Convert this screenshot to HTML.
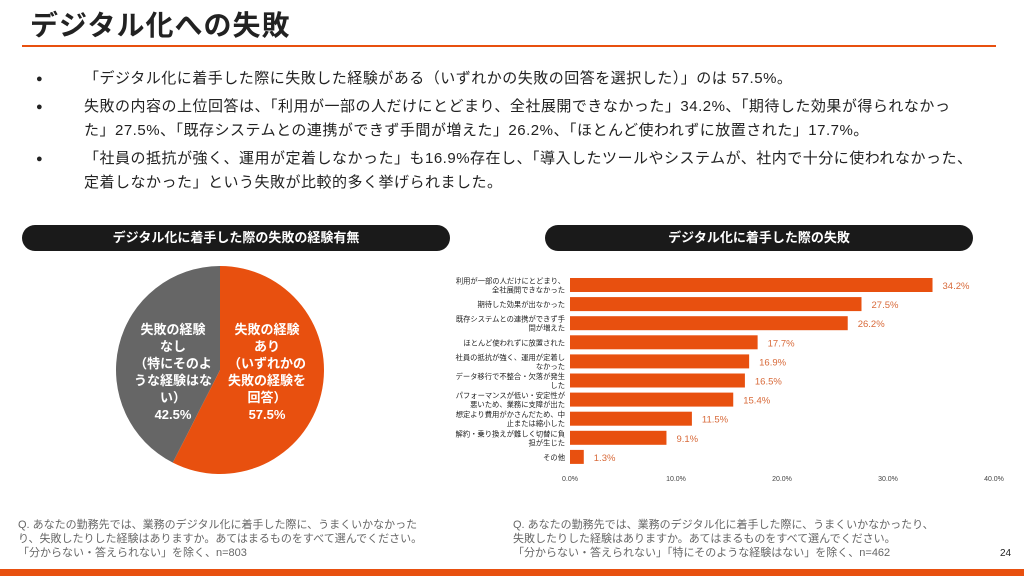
<!DOCTYPE html>
<html><head><meta charset="utf-8">
<style>
body{margin:0;width:1024px;height:576px;overflow:hidden;background:#fff;font-family:"Liberation Sans","Noto Sans CJK JP",sans-serif;color:#222;position:relative}
.abs{position:absolute}
.title{left:30px;top:4px;font-size:28px;font-weight:bold;color:#222;letter-spacing:1px}
.rule{left:22px;top:45px;width:974px;height:2px;background:#e8500f}
.bul{left:36px;font-size:15px;line-height:24.5px;width:960px;white-space:nowrap;letter-spacing:0.5px}
.bul p{margin:0 0 3px 0;position:relative;padding-left:48px}
.bul p:before{content:"●";position:absolute;left:0;font-size:11px}
.pill{height:26px;border-radius:13px;background:#1a1a1a;color:#fff;font-size:13px;font-weight:bold;text-align:center;line-height:26px}
.note{font-size:11px;color:#666;line-height:14px}
.foot{left:0;top:569px;width:1024px;height:7px;background:#e8500f}
</style></head><body>
<div class="abs title">デジタル化への失敗</div>
<div class="abs rule"></div>
<div class="abs bul" style="top:67px">
<p>「デジタル化に着手した際に失敗した経験がある（いずれかの失敗の回答を選択した）」のは 57.5%。</p>
<p>失敗の内容の上位回答は、「利用が一部の人だけにとどまり、全社展開できなかった」34.2%、「期待した効果が得られなかっ<br>た」27.5%、「既存システムとの連携ができず手間が増えた」26.2%、「ほとんど使われずに放置された」17.7%。</p>
<p>「社員の抵抗が強く、運用が定着しなかった」も16.9%存在し、「導入したツールやシステムが、社内で十分に使われなかった、<br>定着しなかった」という失敗が比較的多く挙げられました。</p>
</div>
<div class="abs pill" style="left:22px;top:225px;width:428px">デジタル化に着手した際の失敗の経験有無</div>
<div class="abs pill" style="left:545px;top:225px;width:428px">デジタル化に着手した際の失敗</div>

<svg class="abs" style="left:0;top:0" width="1024" height="576">
<g id="pie"></g><g id="bars"></g>
</svg>

<div class="abs note" style="left:18px;top:518px">Q. あなたの勤務先では、業務のデジタル化に着手した際に、うまくいかなかった<br>り、失敗したりした経験はありますか。あてはまるものをすべて選んでください。<br>「分からない・答えられない」を除く、n=803</div>
<div class="abs note" style="left:513px;top:518px">Q. あなたの勤務先では、業務のデジタル化に着手した際に、うまくいかなかったり、<br>失敗したりした経験はありますか。あてはまるものをすべて選んでください。<br>「分からない・答えられない」「特にそのような経験はない」を除く、n=462</div>
<div class="abs" style="left:1000px;top:548px;font-size:10px">24</div>
<div class="abs foot"></div>

<script>
const pieLabels=[["失敗の経験","あり","（いずれかの","失敗の経験を","回答）"],["失敗の経験","なし","（特にそのよ","うな経験はな","い）"]];
const pieValues=[57.5,42.5];
const barCats=[["利用が一部の人だけにとどまり、","全社展開できなかった"],["期待した効果が出なかった"],["既存システムとの連携ができず手","間が増えた"],["ほとんど使われずに放置された"],["社員の抵抗が強く、運用が定着し","なかった"],["データ移行で不整合・欠落が発生","した"],["パフォーマンスが低い・安定性が","悪いため、業務に支障が出た"],["想定より費用がかさんだため、中","止または縮小した"],["解約・乗り換えが難しく切替に負","担が生じた"],["その他"]];
const barValues=[34.2,27.5,26.2,17.7,16.9,16.5,15.4,11.5,9.1,1.3];
const tickValues=[0,10,20,30,40];

const NS="http://www.w3.org/2000/svg";
function mk(tag,attrs,parent){const e=document.createElementNS(NS,tag);for(const k in attrs)e.setAttribute(k,attrs[k]);parent.appendChild(e);return e;}
const pg=document.getElementById('pie');
const cx=220,cy=370,r=104,colors=["#e8500f","#666666"];
const total=pieValues.reduce((a,b)=>a+b,0);
let ang=0;
pieValues.forEach((v,i)=>{
  const a0=ang,a1=ang+v/total*2*Math.PI;ang=a1;
  const x0=cx+r*Math.sin(a0),y0=cy-r*Math.cos(a0),x1=cx+r*Math.sin(a1),y1=cy-r*Math.cos(a1);
  const p=mk('path',{d:`M${cx},${cy}L${x0},${y0}A${r},${r} 0 ${a1-a0>Math.PI?1:0} 1 ${x1},${y1}Z`,fill:colors[i]},pg);
  
  
  const lx=i===0?cx+47:cx-47;
  const lines=pieLabels[i].concat([v.toFixed(1)+'%']);
  lines.forEach((t,j)=>{
    const tx=mk('text',{x:lx,y:cy-36+j*17,'text-anchor':'middle','font-size':13,'font-weight':'bold',fill:'#fff'},pg);
    tx.textContent=t;
    
    
  });
});
const bg=document.getElementById('bars');
const x0=570,pxPer=10.6,top0=278,step=19.1,bh=14;
const xs=v=>x0+v*pxPer;
tickValues.forEach(t=>{
  const tx=mk('text',{x:xs(t),y:481,'text-anchor':'middle','font-size':7,fill:'#444'},bg);
  tx.textContent=t.toFixed(1)+'%';
  
  
});
barValues.forEach((v,i)=>{
  const y=top0+i*step;
  const b=mk('rect',{x:x0,y:y,width:xs(v)-x0,height:bh,fill:'#e8500f'},bg);
  
  
  const vt=mk('text',{x:xs(v)+10,y:y+11,'font-size':9.5,fill:'#d86a3a'},bg);
  vt.textContent=v.toFixed(1)+'%';
  
  
  const c=barCats[i];
  c.forEach((t,j)=>{
    const ct=mk('text',{x:565,y:y+bh/2+3-(c.length-1)*4.5+j*9,'text-anchor':'end','font-size':7.3,fill:'#222'},bg);
    ct.textContent=t;
    
    
  });
});
</script>
</body></html>
